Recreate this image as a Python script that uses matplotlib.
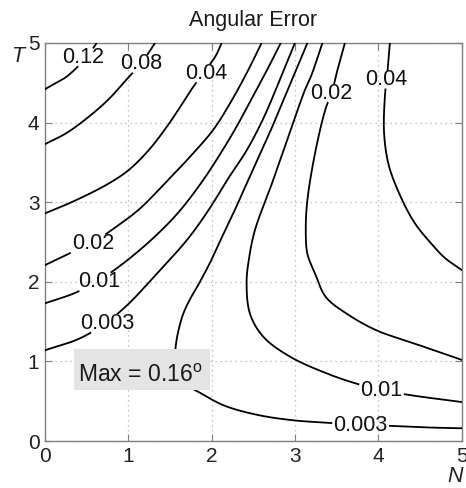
import numpy as np
import matplotlib
matplotlib.use("Agg")
import matplotlib.pyplot as plt
from matplotlib.patches import Rectangle

plt.rcParams['font.family'] = ['Liberation Sans', 'DejaVu Sans']
plt.rcParams['mathtext.default'] = 'regular'

# Iso-error lines of the angular error over N (x) and T (y)
# left family (error grows towards the upper left)
c012_N = [0.00, 0.12, 0.25, 0.40, 0.52, 0.62]
c012_T = [4.42, 4.49, 4.57, 4.71, 4.85, 5.00]

c008_N = [0.00, 0.26, 0.58, 0.78, 0.96, 1.10, 1.22, 1.32]
c008_T = [3.73, 3.87, 4.12, 4.31, 4.52, 4.68, 4.84, 5.00]

c004a_N = [0.00, 0.34, 0.74, 1.00, 1.25, 1.45, 1.60, 1.76, 1.92, 2.05, 2.12]
c004a_T = [2.86, 3.01, 3.22, 3.40, 3.66, 3.93, 4.16, 4.42, 4.65, 4.84, 5.00]

c002a_N = [0.00, 0.26, 0.58, 0.88, 1.14, 1.46, 1.74, 2.02, 2.22, 2.42, 2.60]
c002a_T = [2.21, 2.34, 2.50, 2.71, 2.92, 3.26, 3.57, 3.91, 4.24, 4.62, 5.00]

c001a_N = [0.00, 0.36, 0.65, 0.95, 1.30, 1.60, 1.88, 2.10, 2.30, 2.48, 2.66, 2.83]
c001a_T = [1.73, 1.86, 2.02, 2.24, 2.55, 2.87, 3.25, 3.60, 3.95, 4.30, 4.65, 5.00]

c0003a_N = [0.00, 0.42, 0.75, 1.00, 1.34, 1.70, 1.95, 2.20, 2.42, 2.62, 2.82, 3.00]
c0003a_T = [1.14, 1.29, 1.50, 1.72, 2.10, 2.52, 2.88, 3.30, 3.65, 4.05, 4.54, 5.00]

# right family (error grows towards the upper right)
c0003b_N = [3.15, 2.95, 2.75, 2.60, 2.44, 2.30, 2.15, 2.00, 1.86, 1.75, 1.66, 1.60,
            1.57, 1.56, 1.60, 1.70, 1.82, 2.14, 2.54, 2.98, 3.38, 3.80, 4.15,
            4.60, 5.00]
c0003b_T = [5.00, 4.50, 4.00, 3.65, 3.28, 2.95, 2.62, 2.28, 2.00, 1.80, 1.60, 1.38,
            1.20, 1.00, 0.82, 0.70, 0.63, 0.45, 0.33, 0.26, 0.23, 0.20, 0.19,
            0.17, 0.16]

c001b_N = [3.33, 3.20, 3.12, 2.93, 2.74, 2.52, 2.45, 2.42, 2.46, 2.62, 2.94, 3.38,
           3.74, 4.05, 4.36, 5.00]
c001b_T = [5.00, 4.60, 4.41, 3.85, 3.28, 2.65, 2.30, 2.00, 1.60, 1.31, 1.06, 0.85,
           0.72, 0.64, 0.58, 0.49]

c002b_N = [3.60, 3.52, 3.44, 3.37, 3.25, 3.15, 3.13, 3.15, 3.24, 3.37, 3.62, 3.98, 4.42, 5.00]
c002b_T = [5.00, 4.70, 4.37, 4.18, 3.66, 3.03, 2.65, 2.35, 2.11, 1.81, 1.60, 1.39, 1.23, 1.02]

c004b_N = [4.14, 4.12, 4.10, 4.08, 4.07, 4.13, 4.30, 4.45, 4.62, 4.80, 5.00]
c004b_T = [5.00, 4.74, 4.54, 4.33, 3.87, 3.45, 3.00, 2.72, 2.50, 2.30, 2.15]

# inline level labels: text, N, T
labels = [
    ("0.12", 0.46, 4.82),
    ("0.08", 1.15, 4.74),
    ("0.04", 1.93, 4.62),
    ("0.02", 0.58, 2.48),
    ("0.01", 0.65, 2.00),
    ("0.003", 0.75, 1.48),
    ("0.003", 3.79, 0.20),
    ("0.01", 4.04, 0.64),
    ("0.02", 3.44, 4.37),
    ("0.04", 4.10, 4.54),
]
lines_N = [c012_N, c008_N, c004a_N, c002a_N, c001a_N, c0003a_N,
           c0003b_N, c001b_N, c002b_N, c004b_N]
lines_T = [c012_T, c008_T, c004a_T, c002a_T, c001a_T, c0003a_T,
           c0003b_T, c001b_T, c002b_T, c004b_T]

max_text = "Max = 0.16$^{o}$"
ticks = [0, 1, 2, 3, 4, 5]


def smooth_path(x, y, steps=20):
    """Centripetal Catmull-Rom curve through the given vertices (display smoothing)."""
    p = np.column_stack([x, y]).astype(float)
    p = np.vstack([2 * p[0] - p[1], p, 2 * p[-1] - p[-2]])
    out = [p[1]]
    for i in range(1, len(p) - 2):
        p0, p1, p2, p3 = p[i - 1], p[i], p[i + 1], p[i + 2]
        t0 = 0.0
        t1 = t0 + np.linalg.norm(p1 - p0) ** 0.5 + 1e-9
        t2 = t1 + np.linalg.norm(p2 - p1) ** 0.5 + 1e-9
        t3 = t2 + np.linalg.norm(p3 - p2) ** 0.5 + 1e-9
        tt = np.linspace(t1, t2, steps + 1)[1:, None]
        a1 = (t1 - tt) / (t1 - t0) * p0 + (tt - t0) / (t1 - t0) * p1
        a2 = (t2 - tt) / (t2 - t1) * p1 + (tt - t1) / (t2 - t1) * p2
        a3 = (t3 - tt) / (t3 - t2) * p2 + (tt - t2) / (t3 - t2) * p3
        b1 = (t2 - tt) / (t2 - t0) * a1 + (tt - t0) / (t2 - t0) * a2
        b2 = (t3 - tt) / (t3 - t1) * a2 + (tt - t1) / (t3 - t1) * a3
        c = (t2 - tt) / (t2 - t1) * b1 + (tt - t1) / (t2 - t1) * b2
        out.extend(c)
    out = np.array(out)
    return out[:, 0], out[:, 1]


fig = plt.figure(figsize=(4.66, 4.88), dpi=100)
ax = fig.add_axes([0.0966, 0.0963, 0.8938, 0.8156])
ax.set_xlim(0, 5)
ax.set_ylim(0, 5)
ax.set_xticks(ticks)
ax.set_yticks(ticks)
ax.grid(True, linestyle=(0, (1, 3)), color='#b0b0b0', lw=0.9)
ax.set_axisbelow(True)
ax.tick_params(direction='in', length=5, width=0.8, top=True, right=True,
               color='#808080', labelcolor='#222222', labelsize=15, pad=4)
for s in ax.spines.values():
    s.set_color('#808080')
    s.set_linewidth(1.0)

ax.set_title("Angular Error", fontsize=15.5, color='#1a1a1a', pad=12)
fig.text(18 / 466, 1 - 57 / 488, "T", fontsize=15.5, style='italic',
         color='#222222', ha='center', va='center')
fig.text(455 / 466, 1 - 477 / 488, "N", fontsize=15.5, style='italic',
         color='#222222', ha='center', va='center')

drawn = []
for n, t, (txt, lx, ly) in zip(lines_N, lines_T, labels):
    sn, st = smooth_path(n, t)
    ln, = ax.plot(sn, st, color='black', lw=1.3, zorder=3, clip_on=True)
    tx = ax.text(lx, ly, txt, fontsize=15.5, color='#111111',
                 ha='center', va='center', zorder=4)
    drawn.append((ln, tx, sn, st))

# annotation box for the maximum value
ax.add_patch(Rectangle((0.35, 0.64), 1.63, 0.52, facecolor='#e4e4e4',
                       edgecolor='none', zorder=5))
ax.text(0.40, 0.745, max_text, fontsize=16.5, color='#1a1a1a',
        ha='left', va='baseline', zorder=6)

# break each line where its own label sits
fig.canvas.draw()
renderer = fig.canvas.get_renderer()
for ln, tx, n, t in drawn:
    bb = tx.get_window_extent(renderer)
    x0, x1 = bb.x0 - 2, bb.x1 + 2
    y0, y1 = bb.y0 + 1, bb.y1 - 1
    xy = ax.transData.transform(np.column_stack([n, t]))
    d = np.concatenate([[0], np.cumsum(np.hypot(*np.diff(xy, axis=0).T))])
    s = np.linspace(0, d[-1], int(d[-1]) * 3 + 2)
    px = np.interp(s, d, xy[:, 0])
    py = np.interp(s, d, xy[:, 1])
    inside = (px > x0) & (px < x1) & (py > y0) & (py < y1)
    px[inside] = np.nan
    py[inside] = np.nan
    back = ax.transData.inverted().transform(np.column_stack([px, py]))
    ln.set_data(back[:, 0], back[:, 1])

fig.savefig("out.png", dpi=100)
